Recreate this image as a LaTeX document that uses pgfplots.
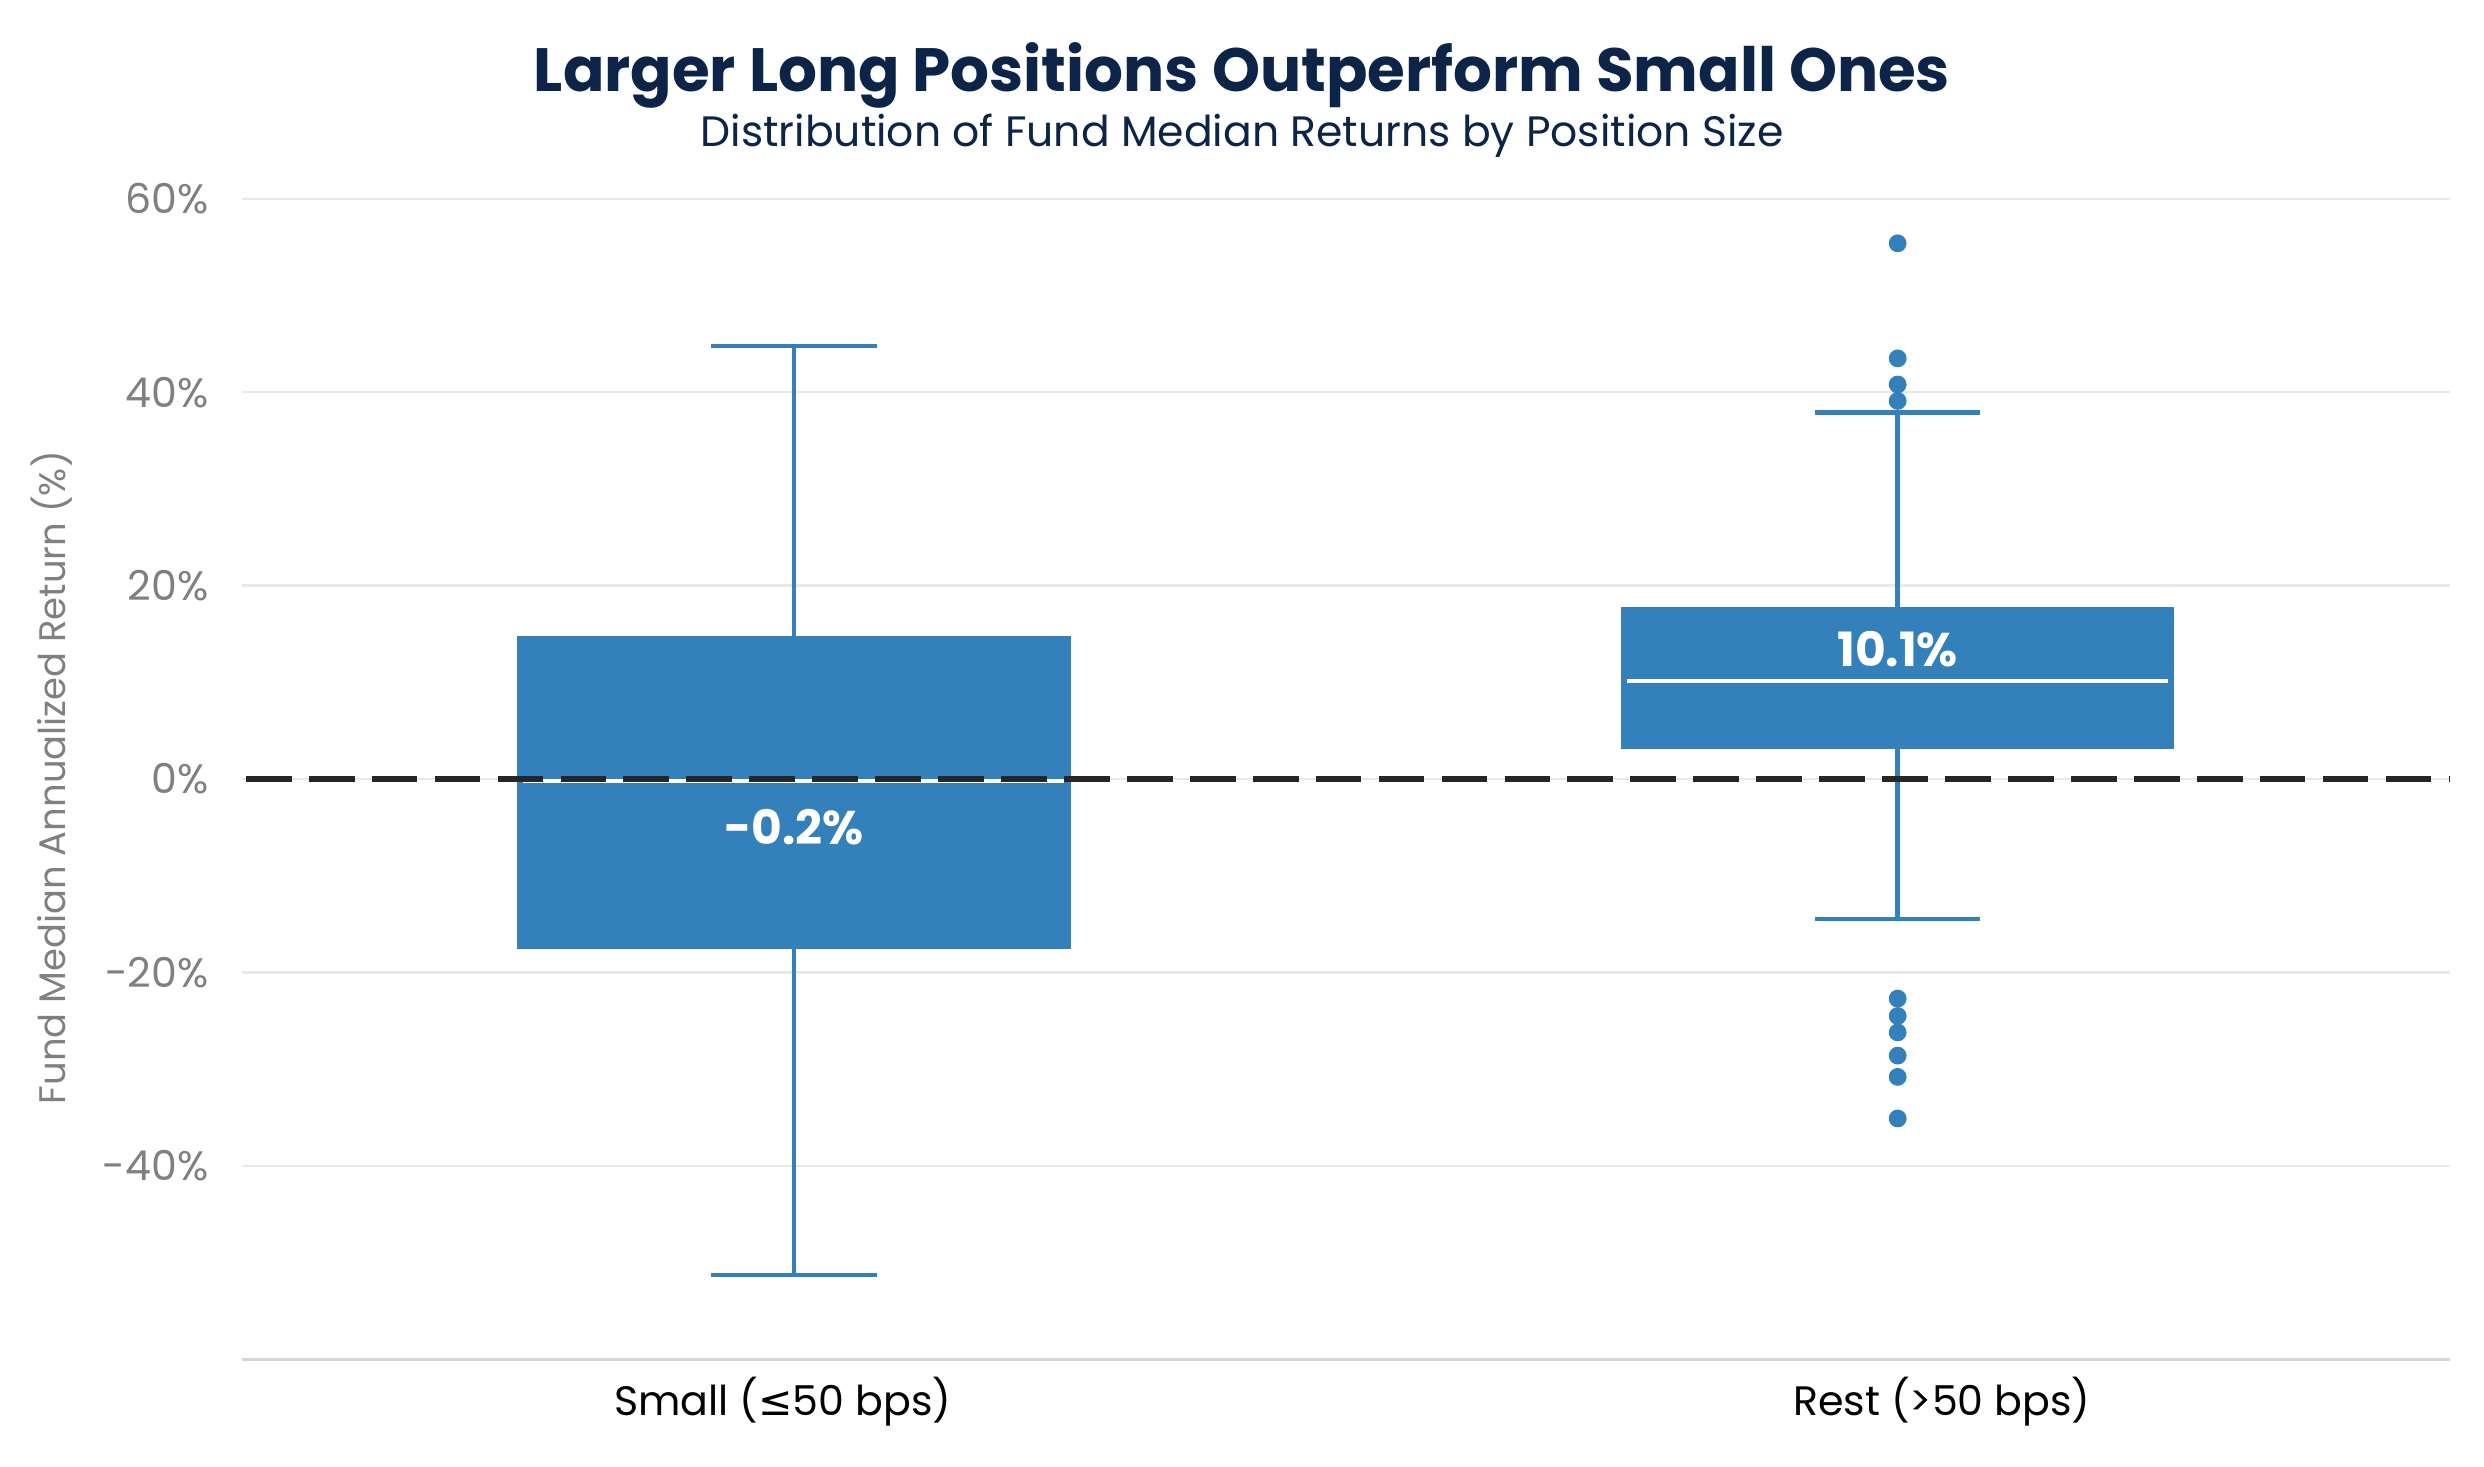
\documentclass[border=0pt]{standalone}
\usepackage{fontspec}
\setmainfont{Poppins}
\newfontfamily\symfont{DejaVu Sans}
\usepackage{pgfplots}
\pgfplotsset{compat=1.18}

\definecolor{boxblue}{HTML}{3480BA}
\definecolor{titlenavy}{HTML}{0B2447}
\definecolor{tickgray}{HTML}{808080}
\definecolor{gridgray}{HTML}{E8E8E8}
\definecolor{spinegray}{HTML}{D6D6D6}
\definecolor{zeroline}{HTML}{262626}

\begin{document}
\begin{tikzpicture}
% page frame, 2484 x 1466 px at 0.36 pt per px
\path[use as bounding box] (0,0) rectangle (894pt,-527.8pt);

\node[anchor=base, text=titlenavy, font=\bfseries\fontsize{22}{26}\selectfont]
  at (447pt,-32.8pt) {Larger Long Positions Outperform Small Ones};
\node[anchor=base, text=titlenavy, font=\fontsize{15.3}{18}\selectfont]
  at (447pt,-52.9pt) {Distribution of Fund Median Returns by Position Size};

\begin{axis}[
  at={(87.1pt,-489.2pt)}, anchor=south west,
  scale only axis, width=794.5pt, height=424.6pt,
  xmin=-0.5, xmax=1.5, ymin=-60, ymax=62,
  axis x line*=bottom, axis y line*=left,
  x axis line style={spinegray, line width=1.2pt, -},
  y axis line style={draw=none},
  major tick length=0pt,
  % labels sit a little off the box centres in the original
  xtick={-0.01,1.04},
  xticklabels={Small ({\symfont ≤}50 bps), Rest (>50 bps)},
  ytick={-40,-20,0,20,40,60},
  yticklabels={-40\%,-20\%,0\%,20\%,40\%,60\%},
  tick label style={inner sep=0pt},
  xticklabel style={font=\fontsize{14.8}{17}\selectfont, text=black, anchor=base, yshift=-20.2pt},
  yticklabel style={font=\fontsize{14.8}{17}\selectfont, text=tickgray, anchor=east, xshift=-11.9pt},
  ymajorgrids, grid style={gridgray, line width=0.85pt},
  ylabel={Fund Median Annualized Return (\%)},
  % rotated label: yshift moves it left, xshift moves it along the axis
  ylabel style={at={(rel axis cs:0,0.5)}, yshift=68.4pt, xshift=-3pt,
    anchor=center, text=tickgray, font=\fontsize{13.3}{16}\selectfont},
  clip=false,
  whisk/.style={boxblue, line width=1.6pt, forget plot},
]

% Small (<=50 bps): box from quartiles, whiskers, median
\addplot[whisk] coordinates {(0,14.7) (0,44.8)};
\addplot[whisk] coordinates {(0,-17.5) (0,-51.3)};
\addplot[whisk] coordinates {(-0.075,44.8) (0.075,44.8)};
\addplot[whisk] coordinates {(-0.075,-51.3) (0.075,-51.3)};
\addplot[fill=boxblue, draw=boxblue, line width=0.6pt]
  coordinates {(-0.25,-17.5) (0.25,-17.5) (0.25,14.7) (-0.25,14.7)} -- cycle;
\addplot[white, line width=1.4pt] coordinates {(-0.245,-0.2) (0.245,-0.2)};

% Rest (>50 bps)
\addplot[whisk] coordinates {(1,17.7) (1,37.9)};
\addplot[whisk] coordinates {(1,3.2) (1,-14.5)};
\addplot[whisk] coordinates {(0.925,37.9) (1.075,37.9)};
\addplot[whisk] coordinates {(0.925,-14.5) (1.075,-14.5)};
\addplot[fill=boxblue, draw=boxblue, line width=0.6pt]
  coordinates {(0.75,3.2) (1.25,3.2) (1.25,17.7) (0.75,17.7)} -- cycle;
\addplot[white, line width=1.4pt] coordinates {(0.755,10.1) (1.245,10.1)};

% outliers of the larger positions
\addplot[only marks, mark=*, mark size=3pt, mark options={fill=boxblue, draw=boxblue}]
  coordinates {(1,55.4) (1,43.5) (1,40.8) (1,39.1)
               (1,-22.7) (1,-24.5) (1,-26.2) (1,-28.6) (1,-30.8) (1,-35.1)};

% zero line
\addplot[zeroline, line width=2pt, dash pattern=on 16.45pt off 6.2pt]
  coordinates {(-0.4965,0) (1.5,0)};

\node[text=white, font=\bfseries\fontsize{17}{20}\selectfont] at (axis cs:0,-5) {-0.2\%};
\node[text=white, font=\bfseries\fontsize{17}{20}\selectfont] at (axis cs:1,13.4) {10.1\%};
\end{axis}
\end{tikzpicture}
\end{document}
